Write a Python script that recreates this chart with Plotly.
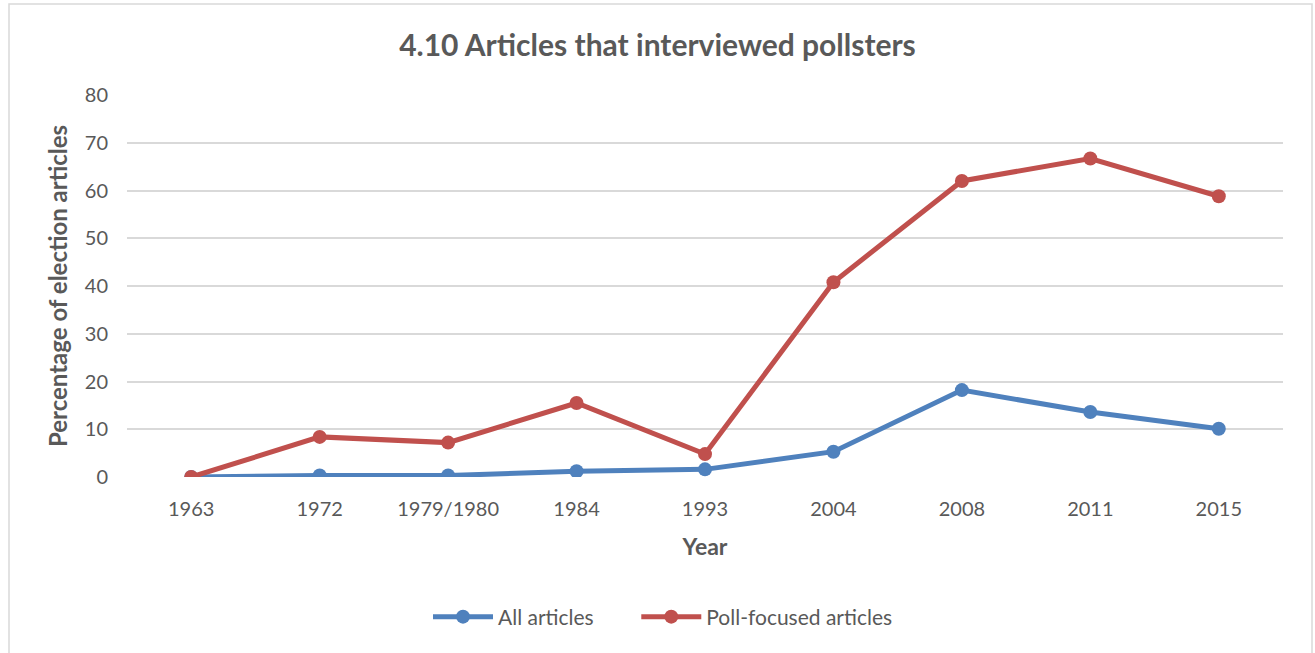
import plotly.graph_objects as go

years = ["1963", "1972", "1979/1980", "1984", "1993", "2004", "2008", "2011", "2015"]
all_articles = [0.0, 0.3, 0.3, 1.2, 1.6, 5.3, 18.2, 13.6, 10.1]
poll_focused = [0.0, 8.4, 7.2, 15.5, 4.8, 40.8, 62.0, 66.7, 58.8]
y_ticks = [0, 10, 20, 30, 40, 50, 60, 70, 80]

FONT = "Lato"
GREY = "#595959"
NB = "\u00a0"

fig = go.Figure()
fig.add_trace(go.Scatter(x=years, y=all_articles, name="All articles" + NB * 7, mode="lines+markers",
                         line=dict(color="#4F81BD", width=5),
                         marker=dict(size=14, color="#4F81BD")))
fig.add_trace(go.Scatter(x=years, y=poll_focused, name="Poll-focused articles", mode="lines+markers",
                         line=dict(color="#C0504D", width=5),
                         marker=dict(size=14, color="#C0504D")))

fig.update_layout(
    width=1315, height=653,
    margin=dict(l=127, r=32, t=95, b=176),
    paper_bgcolor="white", plot_bgcolor="white",
    font=dict(family=FONT, color=GREY, size=20),
    title=dict(text="<b>4.10 Articles that interviewed pollsters</b>", x=0.5, xanchor="center",
               y=1 - 45 / 653, yanchor="middle", font=dict(size=30, color=GREY, family=FONT)),
    xaxis=dict(type="category", range=[-0.5, 8.5], showgrid=False, showline=False, ticks="",
               tickfont=dict(size=20, color=GREY), ticklabelstandoff=18,
               title=dict(text="<b>Year</b>", font=dict(size=23, color=GREY), standoff=19)),
    yaxis=dict(range=[0, 80], tickvals=y_ticks, showgrid=True, gridcolor="#D9D9D9", gridwidth=1.5,
               zeroline=False, showline=False, ticks="", ticklabelstandoff=18,
               tickfont=dict(size=20, color=GREY),
               title=dict(text="<b>Percentage of election articles</b>", font=dict(size=24, color=GREY),
                          standoff=10)),
    legend=dict(orientation="h", x=(428 - 127) / 1156, xanchor="left", y=-(617 - 477) / 382,
                yanchor="middle", font=dict(size=21, color=GREY), itemwidth=60),
    showlegend=True,
)
fig.add_shape(type="rect", xref="paper", yref="paper",
              x0=(9 - 127) / 1156, x1=(1312 - 127) / 1156,
              y0=(477 - 670) / 382, y1=(477 - 4) / 382,
              line=dict(color="#D9D9D9", width=1.5), fillcolor="rgba(0,0,0,0)", layer="below")

fig.write_html("out.html")
